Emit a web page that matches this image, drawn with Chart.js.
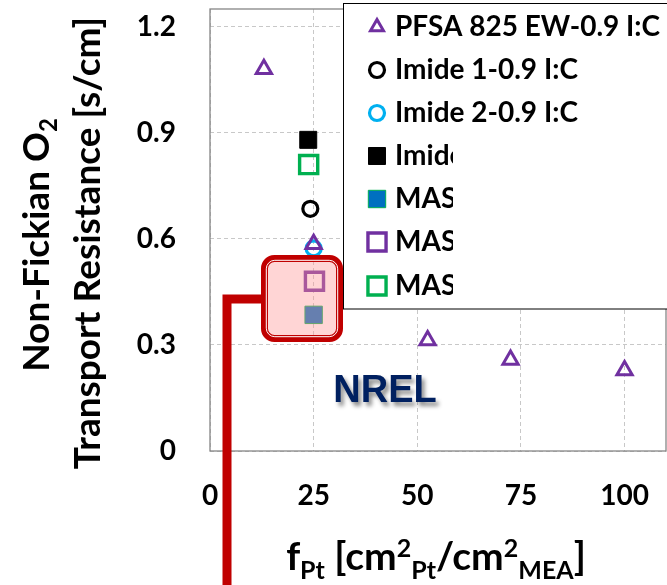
<!DOCTYPE html>
<html>
<head>
<meta charset="utf-8">
<script src="https://cdn.jsdelivr.net/npm/chart.js@4/dist/chart.umd.min.js"></script>
<style>
  html, body { margin: 0; padding: 0; background: #fff; }
  canvas { display: block; }
</style>
</head>
<body>
<canvas id="chart" width="667" height="585"></canvas>
<script>
// Axis ticks
const xTicks = [0, 25, 50, 75, 100];
const yTicks = [0, 0.3, 0.6, 0.9, 1.2];

// Series names (as shown in the legend)
const seriesNames = [
  'PFSA 825 EW-0.9 I:C',
  'Imide 1-0.9 I:C',
  'Imide 2-0.9 I:C',
  'Imide',
  'MAS',
  'MAS',
  'MAS'
];

// f_Pt values [cm2_Pt/cm2_MEA]
const pfsaX   = [13, 25, 52.5, 72.5, 100];
const imide1X = [24.2];
const imide2X = [25];
const imideX  = [23.7];
const masBlueX   = [25];
const masPurpleX = [25.2];
const masGreenX  = [23.8];

// Non-Fickian O2 transport resistance [s/cm]
const pfsaY   = [1.08, 0.585, 0.313, 0.258, 0.228];
const imide1Y = [0.685];
const imide2Y = [0.573];
const imideY  = [0.88];
const masBlueY   = [0.385];
const masPurpleY = [0.48];
const masGreenY  = [0.81];

const pts = (xs, ys) => xs.map((x, i) => ({ x: x, y: ys[i] }));

const datasets = [
  { label: seriesNames[0], data: pts(pfsaX, pfsaY), pointStyle: 'triangle', pointRadius: 8.8,
    backgroundColor: 'rgba(0,0,0,0)', borderColor: '#7030A0', borderWidth: 3, legendRadius: 7.5 },
  { label: seriesNames[1], data: pts(imide1X, imide1Y), pointStyle: 'circle', pointRadius: 7.5,
    backgroundColor: 'rgba(0,0,0,0)', borderColor: '#000000', borderWidth: 3.2 },
  { label: seriesNames[2], data: pts(imide2X, imide2Y), pointStyle: 'circle', pointRadius: 7.5,
    backgroundColor: 'rgba(0,0,0,0)', borderColor: '#00B0F0', borderWidth: 3.2 },
  { label: seriesNames[3], data: pts(imideX, imideY), pointStyle: 'rect', pointRadius: 12,
    backgroundColor: '#000000', borderColor: '#000000', borderWidth: 1 },
  { label: seriesNames[4], data: pts(masBlueX, masBlueY), pointStyle: 'rect', pointRadius: 12.3,
    backgroundColor: '#0070C0', borderColor: '#00B050', borderWidth: 1 },
  { label: seriesNames[5], data: pts(masPurpleX, masPurpleY), pointStyle: 'rect', pointRadius: 12.8,
    backgroundColor: 'rgba(0,0,0,0)', borderColor: '#7030A0', borderWidth: 3.4 },
  { label: seriesNames[6], data: pts(masGreenX, masGreenY), pointStyle: 'rect', pointRadius: 12.8,
    backgroundColor: 'rgba(0,0,0,0)', borderColor: '#00B050', borderWidth: 3.4 }
];
datasets.forEach(d => { d.pointHoverRadius = d.pointRadius; d.pointBorderWidth = d.borderWidth; });

const FONT = 'Lato, "Open Sans", sans-serif';

function drawMarker(ctx, style, x, y, r, fill, stroke, lw) {
  ctx.beginPath();
  if (style === 'triangle') {
    let a = 0;
    ctx.moveTo(x + Math.sin(a) * r, y - Math.cos(a) * r);
    a += 2 * Math.PI / 3;
    ctx.lineTo(x + Math.sin(a) * r, y - Math.cos(a) * r);
    a += 2 * Math.PI / 3;
    ctx.lineTo(x + Math.sin(a) * r, y - Math.cos(a) * r);
    ctx.closePath();
  } else if (style === 'circle') {
    ctx.arc(x, y, r, 0, Math.PI * 2);
  } else {
    const s = Math.SQRT1_2 * r;
    ctx.rect(x - s, y - s, 2 * s, 2 * s);
  }
  ctx.fillStyle = fill;
  ctx.fill();
  if (lw > 0) {
    ctx.lineWidth = lw;
    ctx.strokeStyle = stroke;
    ctx.lineJoin = 'miter';
    ctx.stroke();
  }
}

// Text made of runs with sub/superscripts, centred on x
function drawRuns(ctx, runs, cx, by) {
  let total = 0;
  runs.forEach(r => { ctx.font = 'bold ' + r.size + 'px ' + FONT; r.w = ctx.measureText(r.t).width; total += r.w; });
  let x = cx - total / 2;
  ctx.textAlign = 'left';
  ctx.textBaseline = 'alphabetic';
  runs.forEach(r => {
    ctx.font = 'bold ' + r.size + 'px ' + FONT;
    ctx.fillText(r.t, x, by + r.dy);
    x += r.w;
  });
}

const decorations = {
  id: 'decorations',
  afterDatasetsDraw(chart) {
    const ctx = chart.ctx;
    const a = chart.chartArea;
    ctx.save();

    // plot frame
    ctx.strokeStyle = '#868686';
    ctx.lineWidth = 1.3;
    ctx.strokeRect(a.left, a.top, a.right - a.left, a.bottom - a.top);

    // highlight box around the MAS points at 25
    const bx = 261, by = 255, bw = 82, bh = 87;
    ctx.beginPath();
    ctx.roundRect(bx, by, bw, bh, 13);
    ctx.fillStyle = 'rgba(255,150,150,0.4)';
    ctx.fill();
    ctx.beginPath();
    ctx.roundRect(bx + 3.5, by + 3.5, bw - 7, bh - 7, 10);
    ctx.strokeStyle = '#C00000';
    ctx.lineWidth = 7;
    ctx.stroke();
    ctx.beginPath();
    ctx.roundRect(bx + 5.3, by + 5.3, bw - 10.6, bh - 10.6, 8.5);
    ctx.strokeStyle = '#FFFFFF';
    ctx.lineWidth = 1;
    ctx.stroke();

    // legend
    const lx = 343.5, ly = 3.5;
    ctx.fillStyle = '#FFFFFF';
    ctx.fillRect(lx, ly, 400, 305.5);
    ctx.strokeStyle = '#000000';
    ctx.lineWidth = 1;
    ctx.strokeRect(lx, ly, 400, 305.5);
    const rowY = [27, 70, 113, 156, 199, 242, 286];
    chart.data.datasets.forEach((d, i) => {
      const y = rowY[i];
      drawMarker(ctx, d.pointStyle, 377, y, d.legendRadius || d.pointRadius,
                 d.backgroundColor, d.borderColor, d.borderWidth);
      ctx.save();
      if (i >= 3) {
        ctx.beginPath();
        ctx.rect(344, y - 25, 453 - 344, 50);
        ctx.clip();
      }
      ctx.font = 'bold 28px ' + FONT;
      ctx.fillStyle = '#000000';
      ctx.textAlign = 'left';
      ctx.textBaseline = 'middle';
      ctx.fillText(d.label, 395, y);
      ctx.restore();
    });

    // NREL mark
    ctx.save();
    ctx.font = 'bold 38px "Liberation Sans", Arial, sans-serif';
    ctx.textAlign = 'center';
    ctx.textBaseline = 'alphabetic';
    ctx.shadowColor = 'rgba(0,0,0,0.45)';
    ctx.shadowOffsetX = 3;
    ctx.shadowOffsetY = 4;
    ctx.shadowBlur = 4;
    ctx.fillStyle = '#002060';
    ctx.fillText('NREL', 385, 402);
    ctx.restore();

    // connector line from the highlight box
    ctx.beginPath();
    ctx.moveTo(262, 299);
    ctx.lineTo(227, 299);
    ctx.lineTo(227, 600);
    ctx.strokeStyle = '#C00000';
    ctx.lineWidth = 9;
    ctx.lineJoin = 'miter';
    ctx.stroke();

    // axis titles
    ctx.fillStyle = '#000000';
    drawRuns(ctx, [
      { t: 'f', size: 39, dy: 0 },
      { t: 'Pt', size: 25, dy: 9 },
      { t: ' [cm', size: 39, dy: 0 },
      { t: '2', size: 25, dy: -13 },
      { t: 'Pt', size: 25, dy: 9 },
      { t: '/cm', size: 39, dy: 0 },
      { t: '2', size: 25, dy: -13 },
      { t: 'MEA', size: 25, dy: 9 },
      { t: ']', size: 39, dy: 0 }
    ], 436, 570);

    ctx.save();
    ctx.translate(49, 245);
    ctx.rotate(-Math.PI / 2);
    drawRuns(ctx, [
      { t: 'Non-Fickian O', size: 37, dy: 0 },
      { t: '2', size: 24, dy: 8 }
    ], 0, 0);
    ctx.restore();

    ctx.save();
    ctx.translate(100, 243);
    ctx.rotate(-Math.PI / 2);
    drawRuns(ctx, [{ t: 'Transport Resistance [s/cm]', size: 37, dy: 0 }], 0, 0);
    ctx.restore();

    ctx.restore();
  }
};

const tickFont = { family: FONT, weight: 'bold', size: 28 };

// fixed axis sizes; no extra room reserved for edge labels
const fixX = s => { s.height = 134; s.paddingLeft = 0; s.paddingRight = 0; s.paddingTop = 0; s.paddingBottom = 0; };
const fixY = s => { s.width = 210; s.paddingLeft = 0; s.paddingRight = 0; s.paddingTop = 0; s.paddingBottom = 0; };

new Chart(document.getElementById('chart'), {
  type: 'scatter',
  data: { datasets: datasets },
  options: {
    responsive: false,
    animation: false,
    events: [],
    layout: { autoPadding: false, padding: { left: 0, right: 1, top: 9, bottom: 0 } },
    plugins: { legend: { display: false }, tooltip: { enabled: false } },
    scales: {
      x: {
        type: 'linear', min: 0, max: 110,
        afterBuildTicks: s => { s.ticks = xTicks.map(v => ({ value: v })); },
        afterFit: fixX,
        grid: { color: '#C8C8C8', lineWidth: 1, drawTicks: false },
        border: { display: false, dash: [4, 3] },
        ticks: { font: tickFont, color: '#000', padding: 28, maxRotation: 0, autoSkip: false,
                 callback: v => String(v) }
      },
      y: {
        type: 'linear', min: 0, max: 1.25,
        afterBuildTicks: s => { s.ticks = yTicks.map(v => ({ value: v })); },
        afterFit: fixY,
        grid: { color: '#C8C8C8', lineWidth: 1, drawTicks: false },
        border: { display: false, dash: [4, 3] },
        ticks: { font: tickFont, color: '#000', padding: 34, autoSkip: false,
                 callback: v => (v === 0 ? '0' : v.toFixed(1)) }
      }
    }
  },
  plugins: [decorations]
});
</script>
</body>
</html>
